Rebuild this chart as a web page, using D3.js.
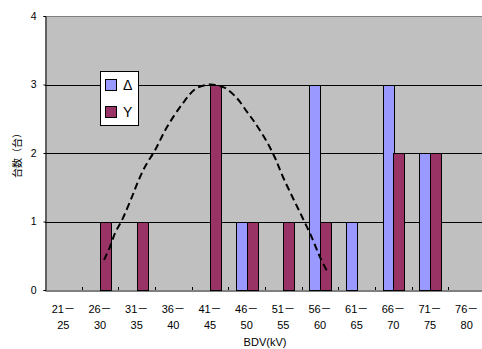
<!DOCTYPE html>
<html>
<head>
<meta charset="utf-8">
<script src="https://cdn.jsdelivr.net/npm/d3@7"></script>
<style>
  html, body { margin: 0; padding: 0; background: #fff; }
  svg { display: block; }
  text { font-family: "Liberation Sans", Arial, "Noto Sans CJK JP", sans-serif; fill: #000; }
</style>
</head>
<body>
<svg id="chart" width="482" height="349"></svg>
<script>
// Breakdown-voltage bins (kV)
const categories = ["21－25","26－30","31－35","36－40","41－45","46－50",
                    "51－55","56－60","61－65","66－70","71－75","76－80"];
// Unit counts per bin for each winding connection
const deltaCounts = [0,0,0,0,0,1,0,3,1,3,2,0];
const wyeCounts   = [0,1,1,0,3,1,1,1,0,2,2,0];
const seriesNames = ["Δ","Y"];
const seriesColors = ["#9999FF","#993366"];
const yTicks = [0,1,2,3,4];
// Fitted distribution curve: kV position and count
const curveKV    = [28.55,29.36,30.05,31.0,32.36,33.18,34.14,35.5,37.14,39.32,40.95,42.3,
                    43.1,43.9,45.05,46.68,48.05,49.14,50.77,51.86,52.95,54.32,55.55,56.91,58.0,59.09];
const curveCount = [0.44,0.63,0.83,1.02,1.36,1.58,1.80,2.04,2.38,2.73,2.93,2.99,
                    3.0,2.99,2.95,2.80,2.60,2.44,2.16,1.93,1.65,1.34,1.07,0.76,0.48,0.25];
const kvExtent = [20.5, 80.5];

const svg = d3.select("#chart");
const plotLeft = 45, plotTop = 16, plotRight = 485, plotBottom = 290;

const x0 = d3.scaleBand().domain(categories).range([plotLeft, plotRight]).padding(0);
const x1 = d3.scaleBand().domain(seriesNames).range([0, x0.bandwidth()])
  .paddingInner(0).paddingOuter(0.73);
const y = d3.scaleLinear().domain([0, 4]).range([plotBottom, plotTop]);
const xkv = d3.scaleLinear().domain(kvExtent).range([plotLeft, plotRight]);

// plot background
svg.append("rect").attr("x", plotLeft).attr("y", plotTop)
  .attr("width", plotRight - plotLeft).attr("height", plotBottom - plotTop)
  .attr("fill", "#C0C0C0");

// horizontal grid lines
svg.append("g").selectAll("line").data(yTicks.filter(d => d > 0 && d < 4)).join("line")
  .attr("x1", plotLeft).attr("x2", plotRight)
  .attr("y1", d => Math.round(y(d)) + 0.5).attr("y2", d => Math.round(y(d)) + 0.5)
  .attr("stroke", "#000").attr("stroke-width", 1);
// top border
svg.append("line").attr("x1", plotLeft).attr("x2", plotRight)
  .attr("y1", plotTop + 0.5).attr("y2", plotTop + 0.5)
  .attr("stroke", "#808080").attr("stroke-width", 1);

// bars
const seriesData = [deltaCounts, wyeCounts];
const groups = svg.append("g").selectAll("g").data(seriesNames).join("g")
  .attr("fill", (d, i) => seriesColors[i]);
groups.each(function(name, si) {
  d3.select(this).selectAll("rect")
    .data(categories.map((c, i) => ({c, v: seriesData[si][i]})).filter(d => d.v > 0))
    .join("rect")
    .attr("x", d => Math.round(x0(d.c) + x1(name)) + 0.5)
    .attr("y", d => Math.round(y(d.v)) + 0.5)
    .attr("width", Math.round(x1.bandwidth()))
    .attr("height", d => Math.round(y(0)) - Math.round(y(d.v)))
    .attr("stroke", "#000").attr("stroke-width", 1);
});

// y axis
const yAxis = svg.append("g").attr("transform", `translate(${plotLeft + 0.5},0)`)
  .call(d3.axisLeft(y).tickValues(yTicks).tickSize(2).tickFormat(d3.format("d")));
yAxis.select(".domain").attr("stroke", "#000");
yAxis.selectAll(".tick line").attr("stroke", "#000");
yAxis.selectAll(".tick text").attr("x", -9).attr("font-size", 10.5)
  .attr("font-family", "'Liberation Sans', Arial, sans-serif");

// x axis
const xAxis = svg.append("g").attr("transform", `translate(0,${Math.round(y(0)) + 0.5})`)
  .call(d3.axisBottom(x0).tickSize(0).tickFormat(""));
xAxis.select(".domain").attr("stroke", "#000");
// boundary ticks pointing into the plot
svg.append("g").selectAll("line").data(categories.slice(1)).join("line")
  .attr("x1", d => Math.round(x0(d)) + 0.5).attr("x2", d => Math.round(x0(d)) + 0.5)
  .attr("y1", Math.round(y(0))).attr("y2", Math.round(y(0)) - 3)
  .attr("stroke", "#000");
// two-line bin labels
const lab = svg.append("g").selectAll("text").data(categories).join("text")
  .attr("text-anchor", "middle").attr("font-size", 11)
  .attr("transform", d => `translate(${x0(d) + x0.bandwidth() / 2},0)`);
lab.append("tspan").attr("x", 0).attr("y", 313).text(d => d.split("－")[0] + "－");
lab.append("tspan").attr("x", 0).attr("y", 329).text(d => d.split("－")[1]);

// axis titles
svg.append("text").attr("x", (plotLeft + plotRight) / 2).attr("y", 346)
  .attr("text-anchor", "middle").attr("font-size", 11).text("BDV(kV)");
svg.append("text").attr("transform", "translate(21,153) rotate(-90)")
  .attr("text-anchor", "middle").attr("font-size", 10)
  .attr("font-family", "'Noto Sans CJK JP', sans-serif").text("台数（台）");

// distribution curve
const line = d3.line().x(d => xkv(d[0])).y(d => y(d[1])).curve(d3.curveCatmullRom);
svg.append("path").datum(curveKV.map((k, i) => [k, curveCount[i]]))
  .attr("d", line).attr("fill", "none").attr("stroke", "#000")
  .attr("stroke-width", 2).attr("stroke-dasharray", "7,4");

// legend
const lg = svg.append("g");
lg.append("rect").attr("x", 100.5).attr("y", 71.5).attr("width", 38).attr("height", 54)
  .attr("fill", "#fff").attr("stroke", "#000").attr("stroke-width", 1);
seriesNames.forEach((n, i) => {
  lg.append("rect").attr("x", 105.5).attr("y", 79.5 + i * 27).attr("width", 11).attr("height", 11)
    .attr("fill", seriesColors[i]).attr("stroke", "#000");
  lg.append("text").attr("x", 123).attr("y", 85 + i * 27).attr("dy", "0.36em")
    .attr("font-size", 14).text(n);
});
</script>
</body>
</html>
